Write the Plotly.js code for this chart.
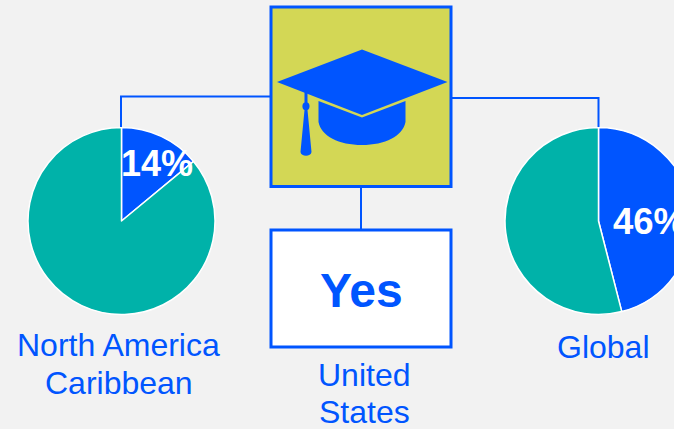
<!DOCTYPE html>
<html><head><meta charset="utf-8">
<script src="https://cdn.plot.ly/plotly-3.0.1.min.js"></script>
<style>html,body{margin:0;padding:0;background:#f2f2f2;overflow:hidden;width:674px;height:429px}#c{width:720px;height:429px}</style>
</head><body><div id="c"></div>
<script>
const sliceNames = ['Yes','No'];
const northAmerica = [14,86];
const globalShare = [46,54];
const labelNA = ['North America','Caribbean'];
const labelUS = ['United','States'];
const labelGlobal = 'Global';
const answerUS = 'Yes';
const BLUE='#0055ff',TEAL='#00b2a9',YEL='#d3d755',FONT='"Liberation Sans",Arial,sans-serif';
const W=720,H=429;
const X=v=>v/W, Y=v=>1-v/H;
const P=(cmds)=>cmds.map(c=>c[0]+' '+c.slice(1).map((v,i)=>(i%2==0?X(v):Y(v)).toFixed(5)).join(' ')).join(' ');
function pie(vals,cx,cy,r){return{type:'pie',values:vals,labels:sliceNames,sort:false,direction:'clockwise',rotation:0,
 textinfo:'none',hoverinfo:'label+percent',showlegend:false,
 marker:{colors:[BLUE,TEAL],line:{color:'#ffffff',width:1.5}},
 domain:{x:[X(cx-r),X(cx+r)],y:[Y(cy+r),Y(cy-r)]}};}
const sh=(path,fill,lw)=>({type:'path',xref:'paper',yref:'paper',path,fillcolor:fill,line:{color:lw?BLUE:'rgba(0,0,0,0)',width:lw||0}});
const shapes=[
 sh(P([['M',121,127],['L',121,96.5],['L',271,96.5]]),'rgba(0,0,0,0)',2),
 sh(P([['M',451,98],['L',598.5,98],['L',598.5,127]]),'rgba(0,0,0,0)',2),
 sh(P([['M',361,187],['L',361,230]]),'rgba(0,0,0,0)',2),
 sh(P([['M',271,7],['L',451,7],['L',451,186.5],['L',271,186.5],['Z']]),YEL,3),
 sh(P([['M',271,230],['L',451,230],['L',451,347],['L',271,347],['Z']]),'#ffffff',3),
 // mortarboard
 sh(P([['M',362,49.5],['L',447.5,82],['L',362,115],['L',277,82],['Z']]),BLUE),
 // cap body
 sh(P([['M',318.5,101],['L',362,117.5],['L',405.5,101],['L',405.5,122],['C',403,136,385,145,362,145],['C',339,145,321,136,318.5,122],['Z']]),BLUE),
 // tassel
 sh(P([['M',304.5,92],['L',307.5,93],['L',307.5,102.5],['C',310,103,310.5,109,307.5,110],['L',311.5,152],['C',311,157,301,157,300.5,152],['L',304.5,110],['C',301.5,109,302,103,304.5,102.5],['Z']]),BLUE)
];
const ann=(x,y,text,size,color,bold)=>({xref:'paper',yref:'paper',x:X(x),y:Y(y),xanchor:'center',yanchor:'middle',showarrow:false,text:bold?'<b>'+text+'</b>':text,align:'center',font:{family:FONT,size,color}});
const annotations=[
 ann(157,163,northAmerica[0]+'%',36,'#ffffff',true),
 ann(649,221,globalShare[0]+'%',36.5,'#ffffff',true),
 ann(361,290.5,answerUS,48,BLUE,true),
 ann(118.5,345,labelNA[0],32,BLUE),
 ann(118.5,383,labelNA[1],32,BLUE),
 ann(364,375,labelUS[0],32,BLUE),
 ann(364,412,labelUS[1],32,BLUE),
 ann(603.5,347,labelGlobal,32,BLUE)
];
Plotly.newPlot('c',[pie(northAmerica,121.5,221,93.5),pie(globalShare,598.5,221,93.5)],{
 width:W,height:H,margin:{l:0,r:0,t:0,b:0},paper_bgcolor:'#f2f2f2',plot_bgcolor:'#f2f2f2',
 font:{family:FONT},shapes,annotations,showlegend:false
},{displayModeBar:false,staticPlot:true});
</script></body></html>
